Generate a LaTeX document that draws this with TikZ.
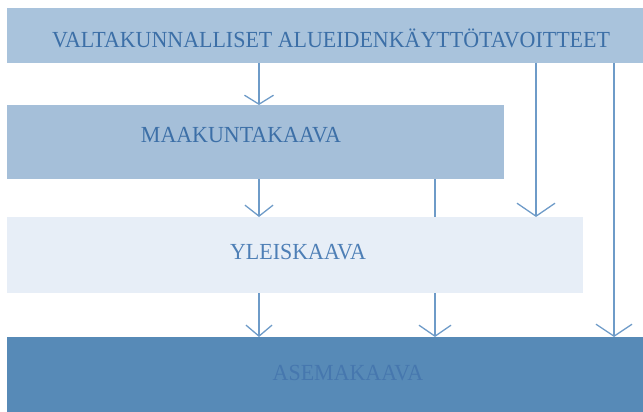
\documentclass[tikz,border=0pt]{standalone}
\usepackage{fontspec}
\setmainfont{Liberation Serif}
\usetikzlibrary{arrows.meta}
\definecolor{topfill}{HTML}{A9C3DC}
\definecolor{maafill}{HTML}{A5BFD9}
\definecolor{ylefill}{HTML}{E7EEF7}
\definecolor{asefill}{HTML}{578AB7}
\definecolor{linec}{HTML}{6E9BC8}
\definecolor{txtc}{HTML}{3C6FA7}
\definecolor{yletxt}{HTML}{4E7FB6}
\definecolor{asetxt}{HTML}{4677AE}
\pgfdeclarelayer{bg}
\pgfsetlayers{bg,main}
\newcommand{\lbltext}[1]{\scalebox{0.955}[1]{#1}}
\tikzset{
  box/.style={draw=none, inner sep=0pt, outer sep=0pt, anchor=north west},
  lbl/.style={inner sep=0pt, font=\fontsize{23}{26}\selectfont},
  conn/.style={draw=linec, line width=1.3pt},
}
\begin{document}
\begin{tikzpicture}[x=1pt,y=-1pt]
\useasboundingbox (0,0) rectangle (643,412);
% boxes
\node[box, fill=topfill, minimum width=636pt, minimum height=55pt] (top) at (7,8) {};
\node[box, fill=maafill, minimum width=497pt, minimum height=74pt] (maa) at (7,105) {};
\node[box, fill=ylefill, minimum width=576pt, minimum height=76pt] (yle) at (7,217) {};
\node[box, fill=asefill, minimum width=636pt, minimum height=75pt] (ase) at (7,337) {};
% labels
\node[lbl, text=txtc] (ttop) at (331,38) {\lbltext{VALTAKUNNALLISET ALUEIDENKÄYTTÖTAVOITTEET}};
\node[lbl, text=txtc] (tmaa) at (241,135) {\lbltext{MAAKUNTAKAAVA}};
\node[lbl, text=yletxt] (tyle) at (298,252) {\lbltext{YLEISKAAVA}};
\node[lbl, text=asetxt] (tase) at (348,373) {\lbltext{ASEMAKAAVA}};
% columns
\coordinate (c1) at (259,0);
\coordinate (c2) at (435,0);
\coordinate (c3) at (536,0);
\coordinate (c4) at (614,0);
% connectors
\draw[conn, -{Straight Barb[length=9pt,width=29pt,line width=1.3pt]}] (top.south -| c1) -- (maa.north -| c1);
\draw[conn, -{Straight Barb[length=13pt,width=38pt,line width=1.3pt]}] (top.south -| c3) -- (yle.north -| c3);
\draw[conn, -{Straight Barb[length=12pt,width=36pt,line width=1.3pt]}] (top.south -| c4) -- (ase.north -| c4);
\draw[conn, -{Straight Barb[length=11pt,width=28pt,line width=1.3pt]}] (maa.south -| c1) -- (yle.north -| c1);
\begin{pgfonlayer}{bg}
\draw[conn, -{Straight Barb[length=11pt,width=32pt,line width=1.3pt]}] (maa.south -| c2) -- (ase.north -| c2);
\end{pgfonlayer}
\draw[conn, -{Straight Barb[length=11pt,width=26pt,line width=1.3pt]}] (yle.south -| c1) -- (ase.north -| c1);
\end{tikzpicture}
\end{document}
